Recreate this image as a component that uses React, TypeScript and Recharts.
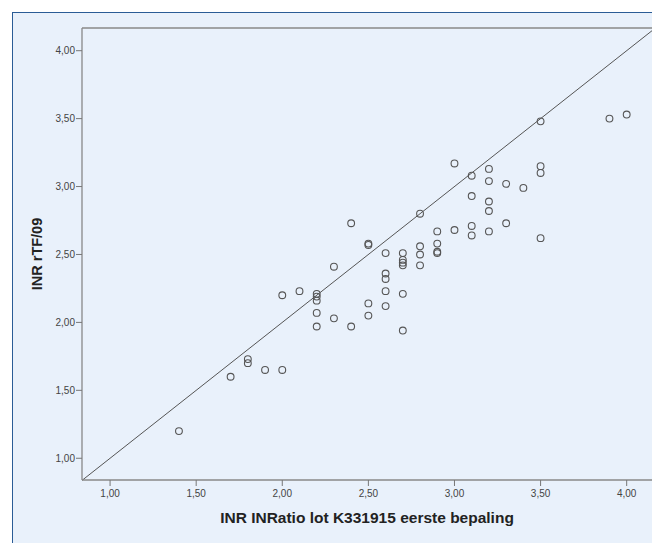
import React from 'react'
import {
  ScatterChart,
  Scatter,
  XAxis,
  YAxis,
  ReferenceLine,
} from 'recharts'

const inrRatio = [
  1.4, 1.7, 1.8, 1.8, 1.9, 2.0, 2.0, 2.1,
  2.2, 2.2, 2.2, 2.2, 2.2, 2.3, 2.3, 2.4, 2.4,
  2.5, 2.5, 2.5, 2.5, 2.6, 2.6, 2.6, 2.6, 2.6,
  2.7, 2.7, 2.7, 2.7, 2.7, 2.7, 2.8, 2.8, 2.8, 2.8,
  2.9, 2.9, 2.9, 2.9, 3.0, 3.0, 3.1, 3.1, 3.1, 3.1,
  3.2, 3.2, 3.2, 3.2, 3.2, 3.3, 3.3, 3.4,
  3.5, 3.5, 3.5, 3.5, 3.9, 4.0,
]
const rtf09 = [
  1.2, 1.6, 1.73, 1.7, 1.65, 1.65, 2.2, 2.23,
  2.21, 2.19, 2.16, 2.07, 1.97, 2.41, 2.03, 2.73, 1.97,
  2.58, 2.57, 2.14, 2.05, 2.51, 2.36, 2.32, 2.23, 2.12,
  2.51, 2.46, 2.44, 2.42, 2.21, 1.94, 2.8, 2.56, 2.5, 2.42,
  2.67, 2.58, 2.52, 2.51, 3.17, 2.68, 3.08, 2.93, 2.71, 2.64,
  3.13, 3.04, 2.89, 2.82, 2.67, 3.02, 2.73, 2.99,
  3.48, 3.15, 3.1, 2.62, 3.5, 3.53,
]
const axisTicks = [1.0, 1.5, 2.0, 2.5, 3.0, 3.5, 4.0]

const points = inrRatio.map((x, i) => ({ x, y: rtf09[i] }))

const X_DOMAIN = [0.837, 4.147]
const Y_DOMAIN = [0.84, 4.167]

const fmt = (v: number) => v.toFixed(2).replace('.', ',')

const font = 'Liberation Sans, Arial, sans-serif'
const tickStyle = { fontSize: 10, fill: '#444', fontFamily: font }
const titleStyle = { fontWeight: 'bold' as const, fill: '#222', fontFamily: font }

const Ring = (props: any) => (
  <circle cx={props.cx} cy={props.cy} r={3.4} fill="none" stroke="#555" strokeWidth={1.1} />
)

export default function App() {
  return (
    <div
      style={{
        position: 'absolute',
        left: 0,
        top: 0,
        width: 652,
        height: 543,
        overflow: 'hidden',
        background: '#fff',
      }}
    >
      <div
        style={{
          position: 'absolute',
          left: 12,
          top: 12,
          width: 660,
          height: 560,
          background: '#E9F1FB',
          borderTop: '1px solid #2A5C96',
          borderLeft: '1px solid #2A5C96',
        }}
      />
      <div style={{ position: 'absolute', left: 0, top: 0 }}>
        <ScatterChart width={652} height={543} margin={{ top: 28, right: 0, bottom: 33, left: 22 }}>
          <XAxis
            type="number"
            dataKey="x"
            domain={X_DOMAIN}
            allowDataOverflow
            ticks={axisTicks}
            tickFormatter={fmt}
            height={30}
            tick={tickStyle}
            tickSize={6}
            tickMargin={4}
            tickLine={{ stroke: '#777' }}
            axisLine={{ stroke: '#888', strokeWidth: 1.3 }}
            label={{
              value: 'INR INRatio lot K331915 eerste bepaling',
              position: 'bottom',
              offset: 2,
              style: { ...titleStyle, fontSize: 15.5 },
            }}
          />
          <YAxis
            type="number"
            dataKey="y"
            domain={Y_DOMAIN}
            allowDataOverflow
            ticks={axisTicks}
            tickFormatter={fmt}
            width={60}
            tick={tickStyle}
            tickSize={6}
            tickMargin={1}
            tickLine={{ stroke: '#777' }}
            axisLine={{ stroke: '#888', strokeWidth: 1.3 }}
            label={{
              value: 'INR rTF/09',
              angle: -90,
              position: 'insideLeft',
              offset: 15,
              style: { ...titleStyle, fontSize: 14.5, textAnchor: 'middle' },
            }}
          />
          {/* top edge of the plot frame */}
          <ReferenceLine y={Y_DOMAIN[1]} stroke="#888" strokeWidth={1.3} ifOverflow="visible" />
          <ReferenceLine
            segment={[
              { x: X_DOMAIN[0], y: X_DOMAIN[0] },
              { x: X_DOMAIN[1], y: X_DOMAIN[1] },
            ]}
            stroke="#555"
            strokeWidth={1}
            ifOverflow="visible"
          />
          <Scatter data={points} shape={Ring} isAnimationActive={false} />
        </ScatterChart>
      </div>
    </div>
  )
}
